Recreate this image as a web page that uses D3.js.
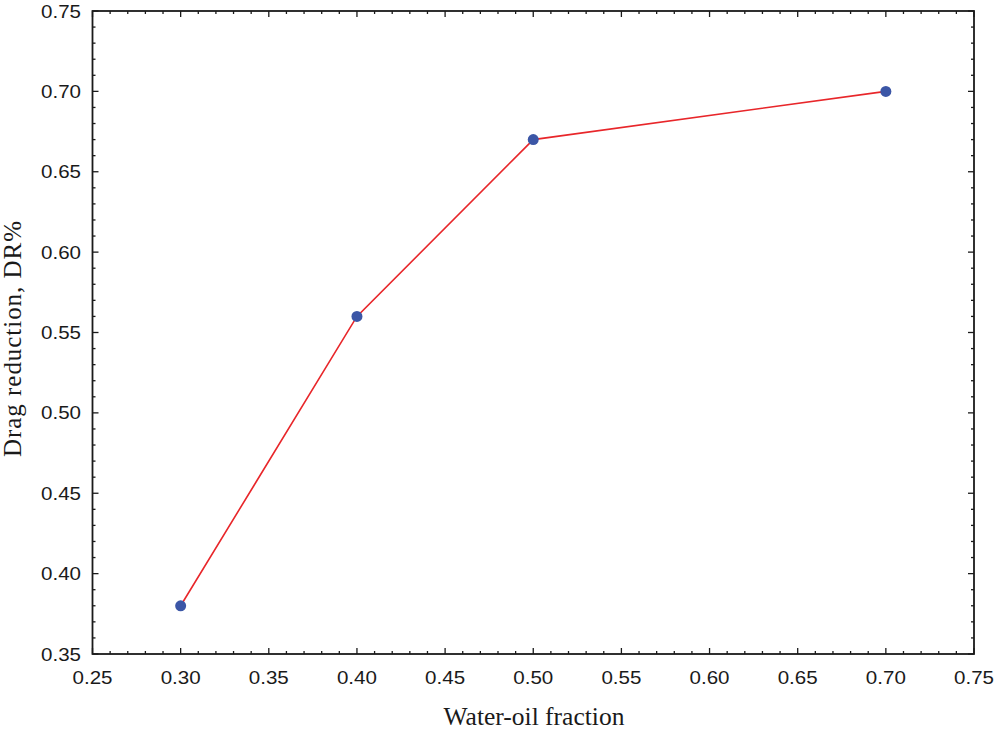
<!DOCTYPE html>
<html><head><meta charset="utf-8">
<script src="https://cdn.jsdelivr.net/npm/d3@7"></script>
<style>body{margin:0;background:#fff}</style>
</head><body>
<svg id="c" width="995" height="731"></svg>
<script>
const xValues = [0.30, 0.40, 0.50, 0.70];
const yValues = [0.38, 0.56, 0.67, 0.70];
const xTicks = [0.25,0.30,0.35,0.40,0.45,0.50,0.55,0.60,0.65,0.70,0.75];
const yTicks = [0.35,0.40,0.45,0.50,0.55,0.60,0.65,0.70,0.75];
const xTitle = "Water-oil fraction";
const yTitle = "Drag reduction, DR%";

const svg = d3.select("#c");
const L=92.5, R=974, T=11, B=654;
const x = d3.scaleLinear().domain([0.25,0.75]).range([L,R]);
const y = d3.scaleLinear().domain([0.35,0.75]).range([B,T]);
const minorX = d3.range(0,51).map(i=>0.25+i*0.01).filter(v=>Math.round(v*100)%5!==0);
const minorY = d3.range(0,41).map(i=>0.35+i*0.01).filter(v=>Math.round(v*100)%5!==0);
const col="#1a1a1a";
const g = svg.append("g");
function ticks(vals, len){
  vals.forEach(v=>{
    const px=x(v);
    g.append("line").attr("x1",px).attr("x2",px).attr("y1",B).attr("y2",B-len).attr("stroke",col).attr("stroke-width",1.3);
    g.append("line").attr("x1",px).attr("x2",px).attr("y1",T).attr("y2",T+len).attr("stroke",col).attr("stroke-width",1.3);
  });
}
function ticksY(vals, len){
  vals.forEach(v=>{
    const py=y(v);
    g.append("line").attr("y1",py).attr("y2",py).attr("x1",L).attr("x2",L+len).attr("stroke",col).attr("stroke-width",1.3);
    g.append("line").attr("y1",py).attr("y2",py).attr("x1",R).attr("x2",R-len).attr("stroke",col).attr("stroke-width",1.3);
  });
}
ticks(xTicks,6); ticks(minorX,3);
ticksY(yTicks,6); ticksY(minorY,3);
g.append("rect").attr("x",L).attr("y",T).attr("width",R-L).attr("height",B-T).attr("fill","none").attr("stroke",col).attr("stroke-width",1.8);
const lblFont="Liberation Sans, Arial, sans-serif";
g.selectAll(".xl").data(xTicks).enter().append("text").attr("x",d=>x(d)).attr("y",684)
  .attr("text-anchor","middle").attr("font-family",lblFont).attr("font-size",18).attr("fill",col)
  .attr("textLength",40).attr("lengthAdjust","spacingAndGlyphs")
  .text(d=>d.toFixed(2));
g.selectAll(".yl").data(yTicks).enter().append("text").attr("x",81).attr("y",d=>y(d)+6.5)
  .attr("text-anchor","end").attr("font-family",lblFont).attr("font-size",18).attr("fill",col)
  .attr("textLength",40).attr("lengthAdjust","spacingAndGlyphs")
  .text(d=>d.toFixed(2));
g.append("text").attr("x",534).attr("y",725).attr("text-anchor","middle")
  .attr("font-family","Liberation Serif, Times New Roman, serif").attr("font-size",25.5).attr("fill",col).text(xTitle);
g.append("text").attr("transform","translate(21,339) rotate(-90)").attr("text-anchor","middle")
  .attr("font-family","Liberation Serif, Times New Roman, serif").attr("font-size",25).attr("fill",col)
  .attr("textLength",236).attr("lengthAdjust","spacing").text(yTitle);
const pts = xValues.map((v,i)=>[v,yValues[i]]);
g.append("path").datum(pts).attr("d",d3.line().x(d=>x(d[0])).y(d=>y(d[1])))
  .attr("fill","none").attr("stroke","#e8262a").attr("stroke-width",1.6);
g.selectAll(".pt").data(pts).enter().append("circle").attr("cx",d=>x(d[0])).attr("cy",d=>y(d[1])).attr("r",5.5)
  .attr("fill","#3b56a6");
</script>
</body></html>
